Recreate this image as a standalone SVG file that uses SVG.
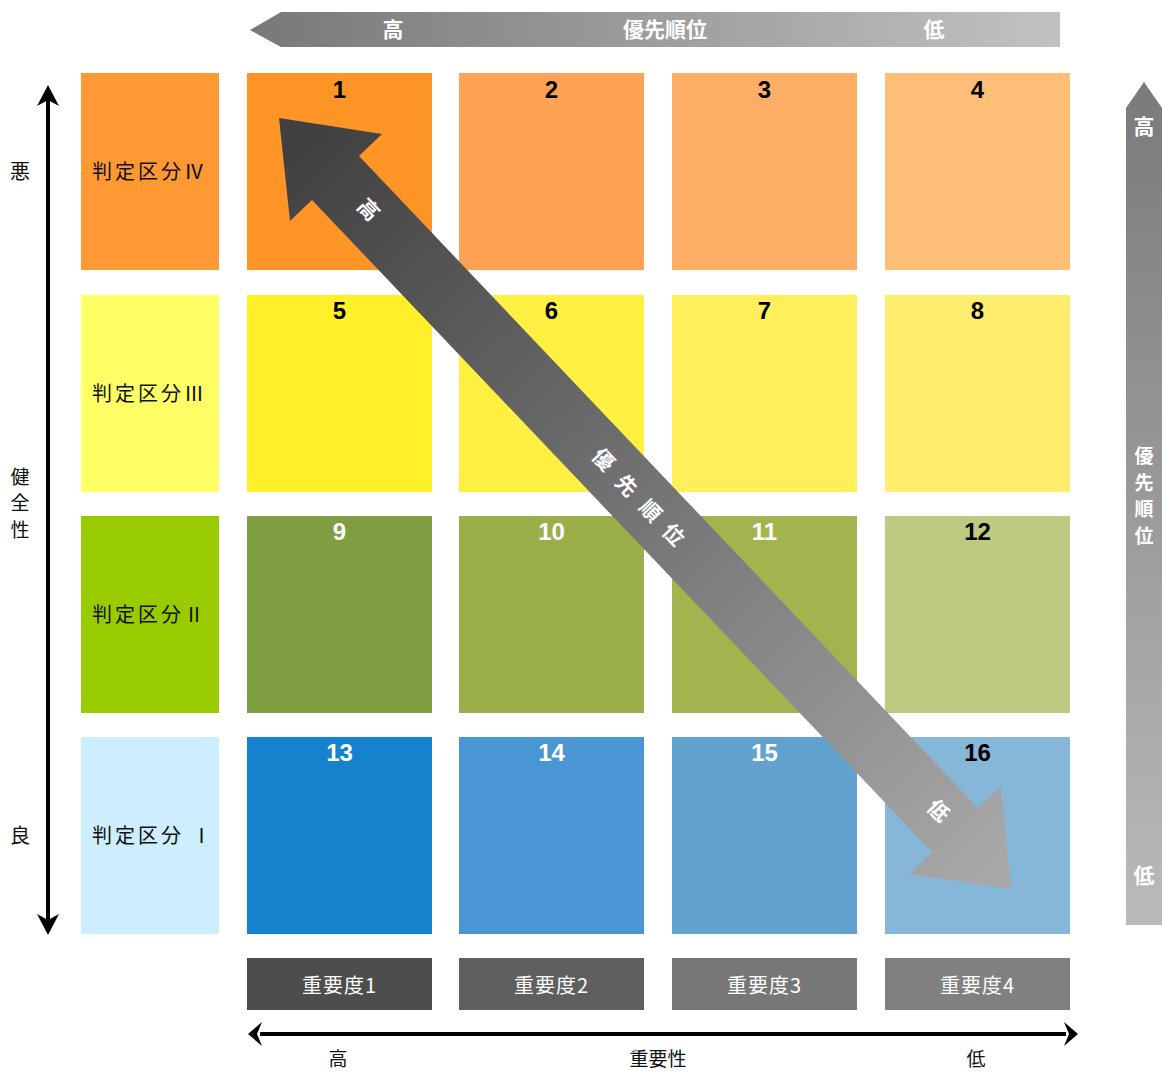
<svg xmlns="http://www.w3.org/2000/svg" width="1162" height="1072" viewBox="0 0 1162 1072">
<style>
.num{font-family:"Liberation Sans Narrow","Liberation Sans",Arial,sans-serif;font-weight:bold;font-size:24px;text-anchor:middle}
.blk{fill:#000}
.wht{fill:#fff}
.lbl{font-family:"Noto Sans CJK JP","Noto Sans",sans-serif;font-size:20px;fill:#111;letter-spacing:3px}
.ax{font-family:"Noto Sans CJK JP","Noto Sans",sans-serif;font-size:20px;fill:#111;text-anchor:middle}
.axv{font-family:"Noto Sans CJK JP","Noto Sans",sans-serif;font-size:19px;fill:#111;text-anchor:middle}
.wb{font-family:"Noto Sans CJK JP","Noto Sans",sans-serif;font-size:21px;font-weight:bold;fill:#fff;text-anchor:middle}
.wbv{font-family:"Noto Sans CJK JP","Noto Sans",sans-serif;font-size:19px;font-weight:bold;fill:#fff;text-anchor:middle}
.imp{font-family:"Noto Sans CJK JP","Noto Sans",sans-serif;font-size:20px;fill:#fff;text-anchor:middle;letter-spacing:1px}
</style>
<defs>
<linearGradient id="gTop" x1="0" y1="0" x2="1" y2="0"><stop offset="0" stop-color="#787878"/><stop offset="1" stop-color="#c2c2c2"/></linearGradient>
<linearGradient id="gRight" x1="0" y1="0" x2="0" y2="1"><stop offset="0" stop-color="#7a7a7a"/><stop offset="1" stop-color="#bababa"/></linearGradient>
<linearGradient id="gDiag" gradientUnits="userSpaceOnUse" x1="300" y1="140" x2="990" y2="868"><stop offset="0" stop-color="#404040"/><stop offset="1" stop-color="#a8a8a8"/></linearGradient>
</defs>
<rect width="1162" height="1072" fill="#fff"/>

<g id="priority-top">
<polygon points="250,30 281,12 1060,12 1060,47 281,47" fill="url(#gTop)"/>
<text class="wb" x="393" y="37">高</text>
<text class="wb" x="665" y="37">優先順位</text>
<text class="wb" x="934" y="37">低</text>
</g>

<g id="priority-right">
<polygon points="1144,82 1162,108 1162,925 1126,925 1126,108" fill="url(#gRight)"/>
<text class="wb" x="1144" y="134">高</text>
<text class="wbv" x="1144" y="463">優</text>
<text class="wbv" x="1144" y="490">先</text>
<text class="wbv" x="1144" y="516">順</text>
<text class="wbv" x="1144" y="543">位</text>
<text class="wb" x="1144" y="883">低</text>
</g>

<g id="health-axis">
<text class="ax" x="20" y="179">悪</text>
<text class="axv" x="20" y="484">健</text>
<text class="axv" x="20" y="510">全</text>
<text class="axv" x="20" y="537">性</text>
<text class="ax" x="20" y="843">良</text>
</g>

<g id="categories">
<g id="cat4"><rect x="81" y="73" width="138" height="197" fill="#ff9933"/><text class="lbl" x="92" y="179">判定区分Ⅳ</text></g>
<g id="cat3"><rect x="81" y="295" width="138" height="197" fill="#ffff66"/><text class="lbl" x="92" y="401">判定区分Ⅲ</text></g>
<g id="cat2"><rect x="81" y="516" width="138" height="197" fill="#99cc00"/><text class="lbl" x="92" y="622">判定区分Ⅱ</text></g>
<g id="cat1"><rect x="81" y="737" width="138" height="197" fill="#cceeff"/><text class="lbl" x="92" y="843">判定区分 Ⅰ</text></g>
</g>

<g id="grid">
<g id="c1"><rect x="247" y="73" width="185" height="197" fill="#ff9526"/><text class="num blk" x="339.5" y="98">1</text></g>
<g id="c2"><rect x="459" y="73" width="185" height="197" fill="#ffa255"/><text class="num blk" x="551.5" y="98">2</text></g>
<g id="c3"><rect x="672" y="73" width="185" height="197" fill="#ffae66"/><text class="num blk" x="764.5" y="98">3</text></g>
<g id="c4"><rect x="885" y="73" width="185" height="197" fill="#ffbe78"/><text class="num blk" x="977.5" y="98">4</text></g>
<g id="c5"><rect x="247" y="295" width="185" height="197" fill="#fff02a"/><text class="num blk" x="339.5" y="319">5</text></g>
<g id="c6"><rect x="459" y="295" width="185" height="197" fill="#fff041"/><text class="num blk" x="551.5" y="319">6</text></g>
<g id="c7"><rect x="672" y="295" width="185" height="197" fill="#ffef5a"/><text class="num blk" x="764.5" y="319">7</text></g>
<g id="c8"><rect x="885" y="295" width="185" height="197" fill="#ffed6e"/><text class="num blk" x="977.5" y="319">8</text></g>
<g id="c9"><rect x="247" y="516" width="185" height="197" fill="#7f9e42"/><text class="num wht" x="339.5" y="540">9</text></g>
<g id="c10"><rect x="459" y="516" width="185" height="197" fill="#9aae4a"/><text class="num wht" x="551.5" y="540">10</text></g>
<g id="c11"><rect x="672" y="516" width="185" height="197" fill="#a2b44e"/><text class="num wht" x="764.5" y="540">11</text></g>
<g id="c12"><rect x="885" y="516" width="185" height="197" fill="#bdca82"/><text class="num blk" x="977.5" y="540">12</text></g>
<g id="c13"><rect x="247" y="737" width="185" height="197" fill="#1482cc"/><text class="num wht" x="339.5" y="761">13</text></g>
<g id="c14"><rect x="459" y="737" width="185" height="197" fill="#4a96d4"/><text class="num wht" x="551.5" y="761">14</text></g>
<g id="c15"><rect x="672" y="737" width="185" height="197" fill="#62a2cf"/><text class="num wht" x="764.5" y="761">15</text></g>
<g id="c16"><rect x="885" y="737" width="185" height="197" fill="#86b7d9"/><text class="num blk" x="977.5" y="761">16</text></g>
</g>

<g id="importance">
<g id="imp1"><rect x="247" y="958" width="185" height="52" fill="#4d4d4d"/><text class="imp" x="339.5" y="993">重要度1</text></g>
<g id="imp2"><rect x="459" y="958" width="185" height="52" fill="#5f5f5f"/><text class="imp" x="551.5" y="993">重要度2</text></g>
<g id="imp3"><rect x="672" y="958" width="185" height="52" fill="#777777"/><text class="imp" x="764.5" y="993">重要度3</text></g>
<g id="imp4"><rect x="885" y="958" width="185" height="52" fill="#808080"/><text class="imp" x="977.5" y="993">重要度4</text></g>
</g>

<g id="importance-axis">
<text class="axv" x="338" y="1066">高</text>
<text class="axv" x="658" y="1066">重要性</text>
<text class="axv" x="976" y="1066">低</text>
</g>

<g id="connectors">
<line x1="48" y1="97" x2="48" y2="923" stroke="#000" stroke-width="4"/>
<polygon points="48,85 59,106 48,100 37,106" fill="#000"/>
<polygon points="48,935 59,914 48,920 37,914" fill="#000"/>
<line x1="260" y1="1034" x2="1066" y2="1034" stroke="#000" stroke-width="4"/>
<polygon points="248,1034 262,1022 257,1034 262,1046" fill="#000"/>
<polygon points="1078,1034 1064,1022 1069,1034 1064,1046" fill="#000"/>
</g>

<g id="priority-diagonal">
<polygon points="279,118 382,134 359,156 978,808 1001,787 1011,889 909,874 932,852 312,200 290,221" fill="url(#gDiag)"/>
<text class="wb" font-size="20" transform="translate(368,210) rotate(46.5)" y="7">高</text>
<text class="wb" font-size="20" transform="translate(603,460) rotate(46.5)" y="7">優</text>
<text class="wb" font-size="20" transform="translate(626,486) rotate(46.5)" y="7">先</text>
<text class="wb" font-size="20" transform="translate(650,511) rotate(46.5)" y="7">順</text>
<text class="wb" font-size="20" transform="translate(673,535) rotate(46.5)" y="7">位</text>
<text class="wb" font-size="20" transform="translate(938,811) rotate(46.5)" y="7">低</text>
</g>
</svg>
